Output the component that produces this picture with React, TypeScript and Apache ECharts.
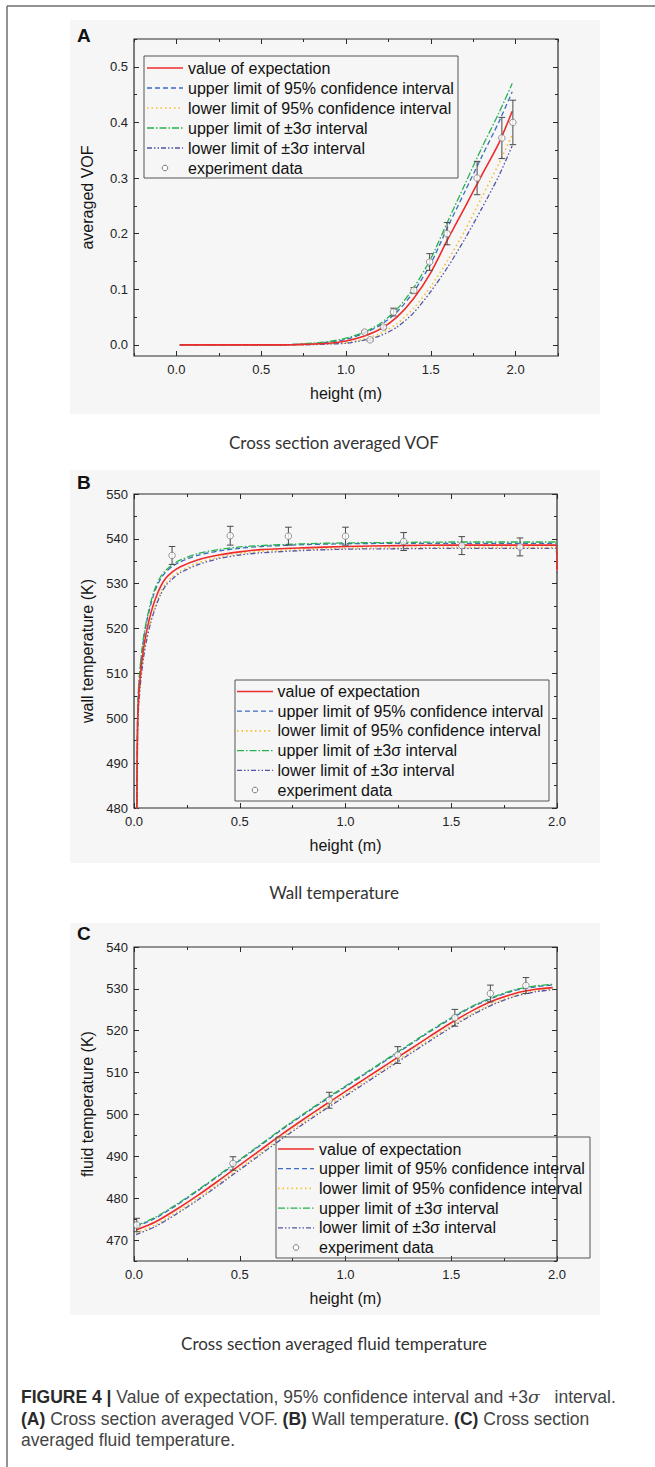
import React, { useEffect, useRef } from "react";
import * as echarts from "echarts";

// ---------------- Panel A : cross section averaged VOF ----------------
const vofX = [0.02, 0.2, 0.4, 0.6, 0.7, 0.8, 0.9, 1.0, 1.1, 1.2, 1.3, 1.4, 1.5, 1.6, 1.7, 1.8, 1.9, 1.98];
const vofMean = [0, 0, 0, 0, 0.0005, 0.0015, 0.003, 0.007, 0.015, 0.028, 0.05, 0.084, 0.13, 0.19, 0.247, 0.305, 0.362, 0.42];
const vofUpper95 = [0, 0, 0, 0, 0.001, 0.002, 0.005, 0.01, 0.02, 0.035, 0.059, 0.096, 0.146, 0.212, 0.275, 0.338, 0.4, 0.455];
const vofLower95 = [0, 0, 0, 0, 0, 0.001, 0.002, 0.004, 0.01, 0.02, 0.038, 0.066, 0.105, 0.152, 0.205, 0.265, 0.325, 0.378];
const vofUpper3s = [0, 0, 0, 0, 0.001, 0.003, 0.006, 0.012, 0.022, 0.038, 0.064, 0.103, 0.155, 0.222, 0.288, 0.354, 0.416, 0.47];
const vofLower3s = [0, 0, 0, 0, 0, 0.0005, 0.0015, 0.003, 0.008, 0.016, 0.032, 0.058, 0.096, 0.14, 0.19, 0.245, 0.303, 0.358];
const vofExpX = [1.11, 1.142, 1.221, 1.28, 1.4, 1.493, 1.596, 1.773, 1.919, 1.984];
const vofExpY = [0.023, 0.009, 0.032, 0.059, 0.098, 0.149, 0.2, 0.3, 0.372, 0.4];
const vofExpErr = [0.002, 0.002, 0.003, 0.007, 0.005, 0.015, 0.02, 0.03, 0.037, 0.04];
const vofXTicks = [0, 0.5, 1.0, 1.5, 2.0];
const vofXMinor = [-0.25, 0.25, 0.75, 1.25, 1.75, 2.25];
const vofYTicks = [0, 0.1, 0.2, 0.3, 0.4, 0.5];
const vofYMinor = [0.05, 0.15, 0.25, 0.35, 0.45, 0.55];

// ---------------- Panel B : wall temperature ----------------
const wallX = [0.012, 0.016, 0.02, 0.03, 0.045, 0.06, 0.08, 0.1, 0.125, 0.15, 0.18, 0.22, 0.3, 0.4, 0.5, 0.6, 0.8, 1.0, 1.25, 1.5, 1.75, 1.995, 2.0];
const wallMean = [470, 495, 503, 509.5, 515.5, 519.5, 523.5, 526.5, 529.3, 531.2, 532.6, 533.8, 535.3, 536.4, 537.1, 537.6, 538.0, 538.3, 538.5, 538.6, 538.6, 538.6, 533];
const wallUpper95 = [470, 497, 505, 511.5, 517.5, 521.5, 525.5, 528.5, 531, 532.6, 533.8, 534.9, 536.3, 537.3, 537.9, 538.3, 538.7, 538.9, 539.0, 539.0, 539.0, 539.0, 534];
const wallLower95 = [470, 493.5, 501.5, 508, 514, 518, 522, 525, 528, 530, 531.5, 532.9, 534.6, 535.9, 536.7, 537.2, 537.6, 537.9, 538.0, 538.1, 538.1, 538.1, 532.5];
const wallUpper3s = [470, 497.5, 505.5, 512, 518, 522, 526, 529, 531.5, 533, 534.2, 535.3, 536.7, 537.6, 538.2, 538.5, 538.9, 539.1, 539.2, 539.3, 539.3, 539.3, 534.5];
const wallLower3s = [470, 493, 501, 507.5, 513.5, 517.5, 521.5, 524.5, 527.5, 529.6, 531, 532.5, 534.2, 535.6, 536.4, 536.9, 537.4, 537.7, 537.8, 537.9, 537.9, 537.9, 532];
const wallExpX = [0.18, 0.455, 0.73, 1.0, 1.275, 1.55, 1.825];
const wallExpY = [536.3, 540.7, 540.6, 540.6, 539.4, 538.5, 538.2];
const wallExpErr = [2.0, 2.1, 2.0, 2.0, 2.0, 2.0, 2.0];
const wallXTicks = [0, 0.5, 1.0, 1.5, 2.0];
const wallXMinor = [0.25, 0.75, 1.25, 1.75];
const wallYTicks = [480, 490, 500, 510, 520, 530, 540, 550];
const wallYMinor = [485, 495, 505, 515, 525, 535, 545];

// ---------------- Panel C : fluid temperature ----------------
const fluidX = [0.01, 0.1, 0.2, 0.3, 0.4, 0.5, 0.6, 0.7, 0.8, 0.9, 1.0, 1.1, 1.2, 1.3, 1.4, 1.5, 1.6, 1.7, 1.8, 1.9, 1.98];
const fluidMean = [472.4, 474.3, 477.3, 480.6, 484.2, 487.9, 491.6, 495.3, 498.8, 502.2, 505.5, 508.8, 512.1, 515.4, 518.7, 521.9, 524.8, 527.2, 528.9, 529.9, 530.3];
const fluidUpper95 = [473.2, 475.2, 478.3, 481.7, 485.3, 489.0, 492.7, 496.4, 499.9, 503.3, 506.6, 509.9, 513.2, 516.5, 519.8, 522.9, 525.7, 527.9, 529.6, 530.5, 530.9];
const fluidLower95 = [471.7, 473.6, 476.6, 479.9, 483.5, 487.2, 490.9, 494.6, 498.1, 501.5, 504.8, 508.1, 511.4, 514.7, 518.0, 521.2, 524.1, 526.6, 528.4, 529.5, 530.0];
const fluidUpper3s = [473.4, 475.4, 478.5, 481.9, 485.5, 489.2, 492.9, 496.6, 500.1, 503.5, 506.8, 510.1, 513.4, 516.7, 520.0, 523.1, 525.9, 528.1, 529.8, 530.7, 531.1];
const fluidLower3s = [471.3, 473.2, 476.2, 479.5, 483.1, 486.8, 490.5, 494.2, 497.7, 501.1, 504.4, 507.7, 511.0, 514.3, 517.6, 520.8, 523.8, 526.3, 528.2, 529.3, 529.8];
const fluidExpX = [0.013, 0.468, 0.923, 1.247, 1.517, 1.685, 1.853];
const fluidExpY = [473.6, 488.3, 503.4, 514.2, 523.1, 528.9, 530.8];
const fluidExpErr = [1.6, 1.6, 1.9, 2.0, 2.0, 2.0, 1.9];
const fluidXTicks = [0, 0.5, 1.0, 1.5, 2.0];
const fluidXMinor = [0.25, 0.75, 1.25, 1.75];
const fluidYTicks = [470, 480, 490, 500, 510, 520, 530, 540];
const fluidYMinor = [465, 475, 485, 495, 505, 515, 525, 535];

// ---------------- texts ----------------
const legendLabels = [
  "value of expectation",
  "upper limit of 95% confidence interval",
  "lower limit of 95% confidence interval",
  "upper limit of \u00b13\u03c3 interval",
  "lower limit of \u00b13\u03c3 interval",
  "experiment data",
];
const panelLetters = ["A", "B", "C"];
const panelCaptions = ["Cross section averaged VOF", "Wall temperature", "Cross section averaged fluid temperature"];
const xTitles = ["height (m)", "height (m)", "height (m)"];
const yTitles = ["averaged VOF", "wall temperature (K)", "fluid temperature (K)"];

const FONT = '"Liberation Sans", Arial, Helvetica, sans-serif';
const CAP_FONT = 'Lato, "Open Sans", "Noto Sans", sans-serif';

const lineStyles = [
  { color: "#ee2b2b", width: 1.6, dash: null as number[] | null },
  { color: "#3d6cc0", width: 1.3, dash: [5, 3] },
  { color: "#f6bf2c", width: 1.6, dash: [1.5, 3] },
  { color: "#26b24d", width: 1.3, dash: [7, 2, 1.5, 2] },
  { color: "#5456a8", width: 1.3, dash: [5, 2, 1.5, 2, 1.5, 2] },
];

type Panel = {
  grid: { left: number; top: number; width: number; height: number };
  xRange: [number, number];
  yRange: [number, number];
  xMajor: number[];
  xMinor: number[];
  yMajor: number[];
  yMinor: number[];
  xDigits: number;
  yDigits: number;
  x: number[];
  lines: number[][];
  expX: number[];
  expY: number[];
  expErr: number[];
  legend: { x: number; y: number; w: number; h: number; row0: number; gap: number; l0: number; l1: number; tx: number };
  bg: { x: number; y: number; w: number; h: number };
  letterY: number;
  captionY: number;
};

const panels: Panel[] = [
  {
    grid: { left: 134, top: 39, width: 424, height: 317 },
    xRange: [-0.25, 2.25],
    yRange: [-0.02, 0.55],
    xMajor: vofXTicks, xMinor: vofXMinor, yMajor: vofYTicks, yMinor: vofYMinor,
    xDigits: 1, yDigits: 1,
    x: vofX,
    lines: [vofMean, vofUpper95, vofLower95, vofUpper3s, vofLower3s],
    expX: vofExpX, expY: vofExpY, expErr: vofExpErr,
    legend: { x: 144, y: 56, w: 314, h: 122, row0: 68, gap: 20, l0: 147, l1: 183, tx: 188 },
    bg: { x: 70, y: 20, w: 530, h: 394 },
    letterY: 35,
    captionY: 442,
  },
  {
    grid: { left: 134, top: 494, width: 423, height: 314 },
    xRange: [0, 2],
    yRange: [480, 550],
    xMajor: wallXTicks, xMinor: wallXMinor, yMajor: wallYTicks, yMinor: wallYMinor,
    xDigits: 1, yDigits: 0,
    x: wallX,
    lines: [wallMean, wallUpper95, wallLower95, wallUpper3s, wallLower3s],
    expX: wallExpX, expY: wallExpY, expErr: wallExpErr,
    legend: { x: 235, y: 680, w: 314, h: 121, row0: 691.5, gap: 19.7, l0: 237, l1: 273, tx: 277.5 },
    bg: { x: 70, y: 470, w: 530, h: 393 },
    letterY: 482,
    captionY: 892,
  },
  {
    grid: { left: 134, top: 947, width: 423, height: 314 },
    xRange: [0, 2],
    yRange: [465, 540],
    xMajor: fluidXTicks, xMinor: fluidXMinor, yMajor: fluidYTicks, yMinor: fluidYMinor,
    xDigits: 1, yDigits: 0,
    x: fluidX,
    lines: [fluidMean, fluidUpper95, fluidLower95, fluidUpper3s, fluidLower3s],
    expX: fluidExpX, expY: fluidExpY, expErr: fluidExpErr,
    legend: { x: 276, y: 1137, w: 314, h: 121, row0: 1149, gap: 19.7, l0: 278, l1: 314, tx: 319 },
    bg: { x: 70, y: 923, w: 530, h: 392 },
    letterY: 933,
    captionY: 1343,
  },
];

function makeAxis(
  dim: "x" | "y",
  gridIndex: number,
  position: string,
  range: [number, number],
  ticks: number[],
  labeled: boolean,
  digits: number,
  name: string,
  tickLen: number
) {
  return {
    type: "value",
    gridIndex,
    position,
    offset: 0,
    min: range[0],
    max: range[1],
    silent: true,
    axisLine: { show: false, onZero: false },
    axisTick: { show: true, inside: true, length: tickLen, customValues: ticks, lineStyle: { color: "#2b2b2b", width: 1 } },
    axisLabel: labeled
      ? {
          show: true,
          customValues: ticks,
          formatter: (v: number) => Number(v).toFixed(digits),
          margin: dim === "x" ? 7 : 6,
          color: "#222",
          fontSize: 13,
          fontFamily: FONT,
        }
      : { show: false },
    splitLine: { show: false },
    minorTick: { show: false },
    minorSplitLine: { show: false },
    name: labeled ? name : "",
    nameLocation: "middle",
    nameGap: dim === "x" ? 29 : 39,
    nameMoveOverlap: false,
    nameTextStyle: { fontSize: 16, color: "#151515", fontFamily: FONT },
  };
}

function buildOption() {
  const grids: any[] = [];
  const xAxes: any[] = [];
  const yAxes: any[] = [];
  const series: any[] = [];
  const graphics: any[] = [];

  // outer frame lines of the figure box
  graphics.push({ type: "line", shape: { x1: 7, y1: 6, x2: 655, y2: 6 }, style: { stroke: "#6e6e6e", lineWidth: 1.5 }, z: 1 });
  graphics.push({ type: "line", shape: { x1: 7, y1: 6, x2: 7, y2: 1467 }, style: { stroke: "#6e6e6e", lineWidth: 1.5 }, z: 1 });

  panels.forEach((p, gi) => {
    grids.push({
      left: p.grid.left,
      top: p.grid.top,
      width: p.grid.width,
      height: p.grid.height,
      show: true,
      borderColor: "#2b2b2b",
      borderWidth: 1.2,
      backgroundColor: "transparent",
      containLabel: false,
      outerBoundsMode: "none",
    });
    const xi = xAxes.length;
    const yi = yAxes.length;
    xAxes.push(makeAxis("x", gi, "bottom", p.xRange, p.xMajor, true, p.xDigits, xTitles[gi], 5));
    xAxes.push(makeAxis("x", gi, "bottom", p.xRange, p.xMinor, false, p.xDigits, "", 3));
    xAxes.push(makeAxis("x", gi, "top", p.xRange, p.xMajor, false, p.xDigits, "", 5));
    xAxes.push(makeAxis("x", gi, "top", p.xRange, p.xMinor, false, p.xDigits, "", 3));
    yAxes.push(makeAxis("y", gi, "left", p.yRange, p.yMajor, true, p.yDigits, yTitles[gi], 5));
    yAxes.push(makeAxis("y", gi, "left", p.yRange, p.yMinor, false, p.yDigits, "", 3));
    yAxes.push(makeAxis("y", gi, "right", p.yRange, p.yMajor, false, p.yDigits, "", 5));
    yAxes.push(makeAxis("y", gi, "right", p.yRange, p.yMinor, false, p.yDigits, "", 3));

    p.lines.forEach((vals, k) => {
      const st = lineStyles[k];
      series.push({
        type: "line",
        name: legendLabels[k],
        xAxisIndex: xi,
        yAxisIndex: yi,
        data: p.x.map((xv, i) => [xv, vals[i]]),
        showSymbol: false,
        symbol: "none",
        smooth: 0.25,
        clip: true,
        silent: true,
        z: 3 + (k === 0 ? 1 : 0),
        lineStyle: { color: st.color, width: st.width, type: st.dash ? st.dash : "solid" },
      });
    });

    series.push({
      type: "custom",
      name: "error",
      xAxisIndex: xi,
      yAxisIndex: yi,
      silent: true,
      clip: false,
      z: 5,
      data: p.expX.map((xv, i) => [xv, p.expY[i] - p.expErr[i], p.expY[i] + p.expErr[i]]),
      encode: { x: 0, y: [1, 2] },
      renderItem: (params: any, api: any) => {
        const xv = api.value(0);
        const lo = api.coord([xv, api.value(1)]);
        const hi = api.coord([xv, api.value(2)]);
        const cw = 3.3;
        const st = { stroke: "#4a4a4a", lineWidth: 1 };
        return {
          type: "group",
          children: [
            { type: "line", shape: { x1: lo[0], y1: lo[1], x2: hi[0], y2: hi[1] }, style: st },
            { type: "line", shape: { x1: lo[0] - cw, y1: lo[1], x2: lo[0] + cw, y2: lo[1] }, style: st },
            { type: "line", shape: { x1: hi[0] - cw, y1: hi[1], x2: hi[0] + cw, y2: hi[1] }, style: st },
          ],
        };
      },
    });

    series.push({
      type: "scatter",
      name: legendLabels[5],
      xAxisIndex: xi,
      yAxisIndex: yi,
      silent: true,
      z: 6,
      symbol: "circle",
      symbolSize: 6.5,
      itemStyle: { color: "#ffffff", borderColor: "#7a7a7a", borderWidth: 1 },
      data: p.expX.map((xv, i) => [xv, p.expY[i]]),
    });

    // panel background
    graphics.push({
      type: "rect",
      z: -10,
      shape: { x: p.bg.x, y: p.bg.y, width: p.bg.w, height: p.bg.h },
      style: { fill: "#f6f6f6" },
    });
    // panel letter
    graphics.push({
      type: "text",
      z: 10,
      x: 77,
      y: p.letterY,
      style: { text: panelLetters[gi], font: `bold 19px ${FONT}`, fill: "#111", verticalAlign: "middle", textVerticalAlign: "middle" },
    });
    // caption under panel
    graphics.push({
      type: "text",
      z: 10,
      x: 334,
      y: p.captionY,
      style: {
        text: panelCaptions[gi],
        font: `17px ${CAP_FONT}`,
        fill: "#333",
        align: "center",
        textAlign: "center",
        verticalAlign: "middle",
        textVerticalAlign: "middle",
      },
    });
    // legend
    const lg = p.legend;
    graphics.push({
      type: "rect",
      z: 20,
      shape: { x: lg.x, y: lg.y, width: lg.w, height: lg.h },
      style: { fill: "rgba(0,0,0,0)", stroke: "#555", lineWidth: 1 },
    });
    legendLabels.forEach((label, k) => {
      const cy = lg.row0 + k * lg.gap;
      if (k < 5) {
        const st = lineStyles[k];
        graphics.push({
          type: "line",
          z: 20,
          shape: { x1: lg.l0, y1: cy, x2: lg.l1, y2: cy },
          style: { stroke: st.color, lineWidth: st.width, lineDash: st.dash || undefined },
        });
      } else {
        graphics.push({
          type: "circle",
          z: 20,
          shape: { cx: (lg.l0 + lg.l1) / 2, cy, r: 2.8 },
          style: { fill: "#fff", stroke: "#7a7a7a", lineWidth: 1 },
        });
      }
      graphics.push({
        type: "text",
        z: 20,
        x: lg.tx,
        y: cy,
        style: { text: label, font: `16px ${FONT}`, fill: "#111", verticalAlign: "middle", textVerticalAlign: "middle" },
      });
    });
  });

  // figure caption
  const capRich = {
    b: { fontFamily: FONT, fontSize: 17.5, fontWeight: "bold", fill: "#2a2a2a" },
    n: { fontFamily: FONT, fontSize: 17.5, fontWeight: "normal", fill: "#444" },
    i: { fontFamily: '"DejaVu Serif", serif', fontSize: 17.5, fontStyle: "italic", fill: "#444" },
  };
  const capLines = [
    "{b|FIGURE 4 |}{n| Value of expectation, 95% confidence interval and }{n|+3}{i|\u03c3}{n|   interval.}",
    "{b|(A)}{n| Cross section averaged VOF. }{b|(B)}{n| Wall temperature. }{b|(C)}{n| Cross section}",
    "{n|averaged fluid temperature.}",
  ];
  const capY = [1397, 1419, 1440];
  capLines.forEach((t, k) => {
    graphics.push({
      type: "text",
      z: 10,
      x: 21,
      y: capY[k],
      style: { text: t, rich: capRich, font: `17.5px ${FONT}`, fill: "#444", verticalAlign: "middle", textVerticalAlign: "middle" },
    });
  });

  return {
    animation: false,
    backgroundColor: "#ffffff",
    tooltip: { show: false },
    grid: grids,
    xAxis: xAxes,
    yAxis: yAxes,
    series,
    graphic: { elements: graphics },
  };
}

export default function App() {
  const ref = useRef<HTMLDivElement | null>(null);
  useEffect(() => {
    if (!ref.current) return;
    const chart = echarts.init(ref.current, undefined, { renderer: "svg" });
    chart.setOption(buildOption() as any);
    return () => chart.dispose();
  }, []);
  return (
    <div
      ref={ref}
      style={{ position: "absolute", left: 0, top: 0, width: 655, height: 1467 }}
    />
  );
}
